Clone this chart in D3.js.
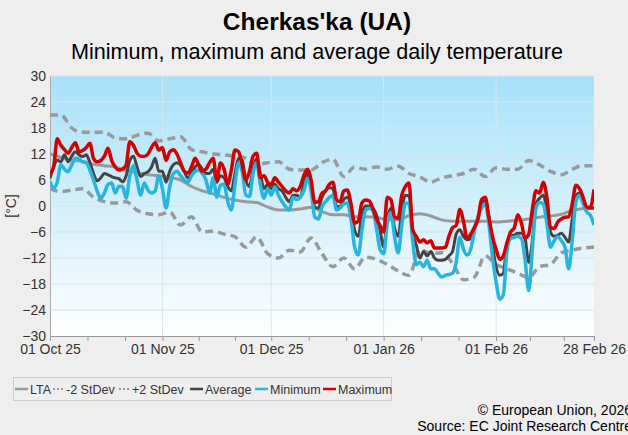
<!DOCTYPE html>
<html>
<head>
<meta charset="utf-8">
<script src="https://cdn.jsdelivr.net/npm/d3@7"></script>
<style>
  body { margin: 0; background: #eeeeee; }
  svg { display: block; font-family: "Liberation Sans", Arial, sans-serif; }
</style>
</head>
<body>
<svg id="chart" width="628" height="435"></svg>
<script>
// daily values, 01 Oct 25 .. 28 Feb 26
var maxTemp = [
  7.5, 9, 15.5, 14, 13, 12.2, 13.5, 14.6, 12.5, 12.8, 13.5, 14.5, 11, 10.2, 10.5, 11.5,
  13.3, 10.5, 9, 8.3, 8.5, 9.5, 14.8, 14, 12.2, 11.5, 11.4, 12, 13.5, 14.6, 12.9,
  13.5, 10.5, 12.5, 13, 12, 10, 8, 7.6, 9, 11, 9.5, 8, 8.5, 10, 11,
  6, 9.9, 8.5, 5, 8.3, 12.9, 12.5, 9.5, 6, 8, 11.5, 12.2, 6.5, 7, 5.5,
  5, 6.5, 5.5, 4.5, 3.5, 3, 4, 3.5, 4.5, 7, 8.5, 6, 0.8, 1, 3, 3.5,
  5, 5.5, 1.5, 1, 3.5, 3.7, 0.5, -4, -3.5, 0.7, 1.4, 1.2, -0.5, -3, -4.5,
  -6, 2, 1.5, -2.5, -2.8, 2.5, 4.5, 5.3, -5.5, -7, -8.3, -7.8, -8.5, -8, -9.7, -9.7,
  -9.7, -9.5, -7, -5, -4.5, -0.8, -3.5, -7.5, -6.5, -5, -3, 1.5, 2, -2.5, -7,
  -10, -12.3, -11.5, -8.5, -6, -5.1, -2, -4, -7.4, -6.5, -0.8, 3.5, 3, 5.5,
  2, -5, -5.2, -3.7, -3, -2.6, -2.5, 0.5, 4.8, 4, 2, -0.3, -0.3, 3.8
];
var avgTemp = [
  6.4, 9, 10.6, 10.2, 11.8, 10.2, 11.5, 12.5, 11.8, 11.4, 11.8, 10, 7.5, 5.8, 6.5, 7.5,
  7.2, 6.8, 6.5, 6.3, 5.6, 7, 10.5, 11.5, 9, 6.8, 7.5, 7.9, 9, 11, 8,
  8, 5.5, 8, 9.5, 10, 9.5, 8, 6.5, 7.5, 9, 9.5, 8.5, 7.5, 7.5, 8.5,
  5.5, 7, 6.5, 4.5, 3.5, 7.5, 11, 10.5, 6, 4.5, 8.5, 11, 7.5, 4, 5,
  4, 5, 4, 3.5, 2, 1, 2.5, 2.5, 2, 5, 7.5, 4.5, -0.2, -0.5, 2, 3.5,
  4.2, 4, 0, -0.2, 1.5, 2, -0.5, -5.5, -7, -2, 0, 0, -0.5, -2, -5.5,
  -9.5, -3, -0.5, -5, -7, -1, 2.5, 2.3, -6, -9, -12, -10.5, -11.5, -10.5, -12, -12.5,
  -12.5, -12.3, -11.5, -10.5, -6.5, -5.5, -7, -7.8, -7.5, -5, -3, 0.5, 1.2, -2.5, -9,
  -14, -16, -15.5, -8.5, -7, -6.7, -6.3, -6.3, -7.5, -13, -8, 0.5, 1.8, 2.5,
  -1, -6, -7, -6.8, -6.3, -7.2, -8.3, -3, 2.5, 3, 1, -0.5, -0.5, -0.5
];
var minTemp = [
  5.6, 4.2, 5.5, 9.5, 8.5, 7.9, 9.5, 11, 10.8, 10.2, 10, 8.3, 6, 3.5, 1.8, 3,
  5, 5.3, 3, 4.5, 4.5, 1.8, 7, 9.3, 6, 2.5, 5.3, 3.7, 3, 3.5, 7,
  4, -0.5, 4.4, 7.5, 8, 7, 6, 5.5, 7, 8, 8.3, 7.5, 6, 3, 6.5,
  2, 4.8, 5, 1, -0.9, 5, 9.9, 8, 2.5, 2.2, 7.5, 10, 5, 1.8, 4,
  2.5, 4.4, 2.5, 1, -0.2, -0.9, 2, 1.5, 2, 3.5, 6.4, 3.5, -2.5, -3, -0.2, 1,
  2, 2.5, -0.9, -0.5, 0.5, 0.7, -3, -9.5, -11.3, -5.5, -1, -0.5, -1, -5, -10,
  -11, -4, -1.5, -7, -10.8, -4.5, 0.7, 0.5, -8, -13.5, -13, -14, -12.5, -14.5, -14.5, -15.5,
  -16.4, -16, -15.8, -15.5, -13, -7.2, -10, -11.3, -10, -6, -2.5, -0.5, 0.5, -4, -11.8,
  -17.5, -21.5, -20.5, -10.5, -7.5, -7.2, -7, -7.5, -12.5, -19.5, -10, -0.5, 0.8, 0.5,
  -4, -9.5, -8, -7.1, -8, -9.5, -14.5, -8, 1, 2.5, 0.5, -1.4, -2.1, -4.4
];

// every third day, 01 Oct 25 .. 28 Feb 26
var lta = [
  12, 11.2, 10.6, 10.3, 9.6, 9.3, 9, 8.2, 7.7, 7.2, 7,
  6.6, 6, 4.5, 3.5, 2.8, 2, 1.4, 1, 0.8, -0.2,
  -0.9, -0.9, -0.7, -0.3, -1.3, -2, -2, -2.5, -2.5, -2.6,
  -3.2, -3.2, -2.2, -1.8, -2.3, -3.2, -3.5, -3.5, -3.5, -3.5,
  -3.7, -3.5, -3.3, -3, -2.6, -2.3, -1.9, -1, -0.6, -0.3
];
var sdMinus = [
  4, 3.3, 3.7, 4, 2, 1, 0.7, 1, -1, -1.8, -2,
  -1.4, -4.4, -2.5, -6, -5.8, -6.5, -7.1, -9.5, -7.1, -11,
  -12, -10.2, -10.6, -7.4, -11, -14, -12, -14.5, -11.8, -12.3,
  -13.5, -15, -16, -10, -11, -10.8, -13.2, -17, -16.4, -11.5,
  -13.5, -14.5, -15.5, -16.5, -14, -13.5, -10.8, -10.2, -9.7, -9.5
];
var sdPlus = [
  21, 21, 18, 17, 17, 17, 15.7, 15.5, 16.3, 16.8, 15,
  15.5, 16, 13, 12.5, 12, 11.8, 11.5, 11, 9.5, 10,
  10.2, 8.5, 8.3, 8.3, 10, 10.8, 6.8, 9, 8.5, 9,
  8.5, 9.2, 7.5, 6.7, 5.5, 6.5, 7, 7.5, 8.5, 6.8,
  8.8, 8.5, 8.5, 10.5, 9.5, 8, 7.2, 8.5, 9.3, 9.3
];

var yTicks = [-30, -24, -18, -12, -6, 0, 6, 12, 18, 24, 30];
var legendNames = ["LTA", "-2 StDev", "+2 StDev", "Average", "Minimum", "Maximum"];

var startDate = new Date(Date.UTC(2025, 9, 1));
var endDate = new Date(Date.UTC(2026, 1, 28));
var days = d3.utcDays(startDate, new Date(Date.UTC(2026, 2, 1)));
var sdDays = days.filter(function(d, i) { return i % 3 === 0; });

var svg = d3.select("#chart");
var plotLeft = 50, plotRight = 594, plotTop = 76, plotBottom = 336;

var x = d3.scaleUtc().domain([startDate, endDate]).range([plotLeft, plotRight]);
var y = d3.scaleLinear().domain([-30, 30]).range([plotBottom, plotTop]);

// plot background
var defs = svg.append("defs");
var grad = defs.append("linearGradient")
    .attr("id", "bg").attr("x1", 0).attr("y1", 0).attr("x2", 0).attr("y2", 1);
grad.append("stop").attr("offset", "0%").attr("stop-color", "#a7e1f8");
grad.append("stop").attr("offset", "100%").attr("stop-color", "#ffffff");
defs.append("clipPath").attr("id", "clip")
  .append("rect")
    .attr("x", plotLeft).attr("y", plotTop)
    .attr("width", plotRight - plotLeft).attr("height", plotBottom - plotTop);

svg.append("rect")
    .attr("x", plotLeft).attr("y", plotTop)
    .attr("width", plotRight - plotLeft).attr("height", plotBottom - plotTop)
    .attr("fill", "url(#bg)");

// month starts and thirds of months
var monthStarts = d3.utcMonths(startDate, endDate);
var tickDates = [];
monthStarts.forEach(function(m) {
  var next = d3.utcMonth.offset(m, 1);
  var len = next - m;
  tickDates.push(m, new Date(+m + len / 3), new Date(+m + 2 * len / 3));
});
tickDates = tickDates.filter(function(d) { return d < endDate; });
tickDates.push(endDate);

svg.append("g").selectAll("line")
  .data(yTicks.slice(1))
  .enter().append("line")
    .attr("x1", plotLeft).attr("x2", plotRight)
    .attr("y1", function(d) { return y(d); })
    .attr("y2", function(d) { return y(d); })
    .attr("stroke", "#d4e4ec").attr("stroke-width", 1);

svg.append("g").selectAll("line")
  .data(monthStarts.slice(1))
  .enter().append("line")
    .attr("x1", function(d) { return x(d); })
    .attr("x2", function(d) { return x(d); })
    .attr("y1", plotTop).attr("y2", plotBottom)
    .attr("stroke", "#d8e6ee").attr("stroke-width", 1);

// axes
var fmt = d3.utcFormat("%d %b %y");
var xAxis = svg.append("g")
    .attr("transform", "translate(0," + plotBottom + ")")
    .call(d3.axisBottom(x)
      .tickValues(tickDates)
      .tickSize(5)
      .tickSizeOuter(0)
      .tickPadding(3)
      .tickFormat(function(d) {
        return (d.getUTCDate() === 1 || +d === +endDate) ? fmt(d) : "";
      }));
xAxis.select(".domain").attr("stroke", "#999");
xAxis.selectAll(".tick line").attr("stroke", "#999");
xAxis.selectAll("text").attr("font-size", 14).attr("fill", "#333")
    .attr("font-family", "Liberation Sans, Arial, sans-serif");

var yAxis = svg.append("g")
    .attr("transform", "translate(" + plotLeft + ",0)")
    .call(d3.axisLeft(y).tickValues(yTicks).tickSize(0).tickPadding(4));
yAxis.select(".domain").attr("stroke", "#aaa");
yAxis.selectAll("text").attr("font-size", 14).attr("fill", "#333")
    .attr("font-family", "Liberation Sans, Arial, sans-serif");

svg.append("text")
    .attr("transform", "translate(16,206) rotate(-90)")
    .attr("text-anchor", "middle")
    .attr("font-size", 14).attr("fill", "#333")
    .text("[°C]");

// series
function lineFor(dates) {
  return d3.line()
      .x(function(d, i) { return x(dates[i]); })
      .y(function(d) { return y(d); })
      .curve(d3.curveMonotoneX);
}

var series = [
  { values: lta, dates: sdDays, color: "#999999", width: 3, dash: null },
  { values: sdMinus, dates: sdDays, color: "#999999", width: 3.5, dash: "8,5" },
  { values: sdPlus, dates: sdDays, color: "#999999", width: 3.5, dash: "8,5" },
  { values: avgTemp, dates: days, color: "#444444", width: 3, dash: null },
  { values: minTemp, dates: days, color: "#27b4df", width: 3.5, dash: null },
  { values: maxTemp, dates: days, color: "#d40000", width: 3.5, dash: null }
];

var plot = svg.append("g").attr("clip-path", "url(#clip)");
series.forEach(function(s) {
  plot.append("path")
      .datum(s.values)
      .attr("d", lineFor(s.dates))
      .attr("fill", "none")
      .attr("stroke", s.color)
      .attr("stroke-width", s.width)
      .attr("stroke-linejoin", "round")
      .attr("stroke-dasharray", s.dash);
});

// titles
svg.append("text")
    .attr("x", 317).attr("y", 30)
    .attr("text-anchor", "middle")
    .attr("font-size", 24.5).attr("font-weight", "bold").attr("fill", "#000")
    .text("Cherkas'ka (UA)");
svg.append("text")
    .attr("x", 317).attr("y", 59)
    .attr("text-anchor", "middle")
    .attr("font-size", 21.6).attr("fill", "#000")
    .text("Minimum, maximum and average daily temperature");

// legend
var legend = svg.append("g");
legend.append("rect")
    .attr("x", 13.5).attr("y", 377.5).attr("width", 378).attr("height", 23)
    .attr("fill", "none").attr("stroke", "#cccccc");

var legendX = [15, 53, 119, 190, 255, 323];
legendNames.forEach(function(name, i) {
  var s = series[i];
  var g = legend.append("g").attr("transform", "translate(" + legendX[i] + ",0)");
  if (s.dash) {
    g.append("line")
        .attr("x1", 0).attr("x2", 10).attr("y1", 389).attr("y2", 389)
        .attr("stroke", s.color).attr("stroke-width", 2).attr("stroke-dasharray", "2,2");
  } else {
    g.append("line")
        .attr("x1", 0).attr("x2", 13).attr("y1", 389).attr("y2", 389)
        .attr("stroke", s.color).attr("stroke-width", 2.5);
  }
  g.append("text")
      .attr("x", s.dash ? 13 : 15).attr("y", 393.5)
      .attr("font-size", 12.5).attr("fill", "#333")
      .text(name);
});

// credits
svg.append("text")
    .attr("x", 632).attr("y", 415)
    .attr("text-anchor", "end").attr("font-size", 14).attr("fill", "#000")
    .text("© European Union, 2026");
svg.append("text")
    .attr("x", 632).attr("y", 431)
    .attr("text-anchor", "end").attr("font-size", 14).attr("fill", "#000")
    .text("Source: EC Joint Research Centre");
</script>
</body>
</html>
